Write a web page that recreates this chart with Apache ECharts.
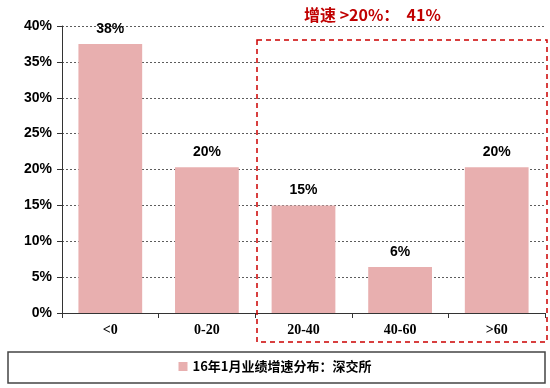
<!DOCTYPE html>
<html><head><meta charset="utf-8">
<script src="https://cdn.jsdelivr.net/npm/echarts@6/dist/echarts.min.js"></script>
<style>html,body{margin:0;padding:0;background:#fff}#c{width:550px;height:388px}</style>
</head><body><div id="c"></div>
<script>
const categories = ['<0', '0-20', '20-40', '40-60', '>60'];
const values = [37.5, 20.3, 15.0, 6.4, 20.3];
const yTicks = [0, 5, 10, 15, 20, 25, 30, 35, 40];
const seriesName = '16年1月业绩增速分布：深交所';
const annotation = '增速 >20%：  41%';

const chart = echarts.init(document.getElementById('c'));
chart.setOption({
  animation: false,
  grid: { left: 62, right: 5, top: 26, bottom: 75 },
  xAxis: {
    type: 'category', data: categories,
    axisLine: { lineStyle: { color: '#333', width: 1 } },
    axisTick: { show: true, alignWithLabel: false, lineStyle: { color: '#333' }, length: 5 },
    axisLabel: { color: '#000', fontFamily: 'Liberation Serif', fontWeight: 'bold', fontSize: 14, margin: 10 }
  },
  yAxis: {
    type: 'value', min: 0, max: 40, interval: 5,
    axisLine: { show: true, lineStyle: { color: '#333' } },
    axisTick: { show: true, inside: false, lineStyle: { color: '#333' }, length: 5 },
    splitLine: { lineStyle: { color: '#333', type: [2, 2], width: 0.8 } },
    axisLabel: { color: '#000', fontFamily: 'Liberation Sans', fontWeight: 'bold', fontSize: 14, margin: 10,
      formatter: v => v + '%' }
  },
  legend: {
    bottom: 10, left: 'center', itemWidth: 9, itemHeight: 9, itemGap: 4,
    icon: 'rect', data: [seriesName],
    textStyle: { fontFamily: 'Noto Sans CJK SC', fontWeight: 'bold', fontSize: 13, color: '#000' }
  },
  graphic: [
    { type: 'rect', shape: { x: 8, y: 352, width: 537, height: 31 }, style: { fill: 'none', stroke: '#444', lineWidth: 1.5 }, z: -1 },
    { type: 'rect', shape: { x: 257, y: 40, width: 290, height: 302 }, style: { fill: 'none', stroke: '#cc0000', lineWidth: 1.5, lineDash: [5, 4] }, z: 10 },
    { type: 'text', left: 304, top: 7, style: { text: annotation, fill: '#c00000', fontFamily: 'Noto Sans CJK SC', fontWeight: 'bold', fontSize: 16 } }
  ],
  series: [{
    name: seriesName, type: 'bar', data: values, barWidth: '66%',
    itemStyle: { color: '#E8AFAF' },
    label: { show: true, position: 'top', distance: 8, color: '#000', fontFamily: 'Liberation Sans', fontWeight: 'bold', fontSize: 14,
      formatter: p => Math.round(p.value) + '%' }
  }]
});
</script></body></html>
